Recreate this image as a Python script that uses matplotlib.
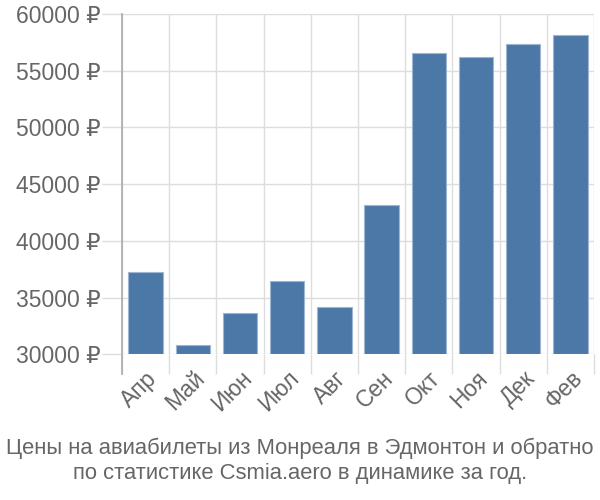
import matplotlib
matplotlib.use("Agg")
import matplotlib.pyplot as plt
import numpy as np

plt.rcParams['font.family'] = ['Liberation Sans', 'DejaVu Sans']

# months and average prices (rub)
months = ['Апр', 'Май', 'Июн', 'Июл', 'Авг', 'Сен', 'Окт', 'Ноя', 'Дек', 'Фев']
prices = [37280, 30820, 33620, 36460, 34140, 43190, 56540, 56220, 57390, 58130]
yticks = [30000, 35000, 40000, 45000, 50000, 55000, 60000]

title = ('Цены на авиабилеты из Монреаля в Эдмонтон и обратно\n'
         'по статистике Csmia.aero в динамике за год.')

bar_color = '#4c78a8'
grid_color = '#dddddd'
text_color = '#666666'

fig = plt.figure(figsize=(6, 5), dpi=100)
ax = fig.add_axes([0.2033, 0.2914, 0.7867, 0.6806])

x = np.arange(len(months))
base = yticks[0]
ax.bar(x, np.array(prices) - base, bottom=base, width=0.73,
       color=bar_color, edgecolor='#9fb6d3', linewidth=0.8, zorder=3)

ax.set_xlim(-0.5, len(months) - 0.5)
ax.set_ylim(yticks[0], yticks[-1])

# y axis: gridlines with long ticks sticking out to the left
ax.set_yticks(yticks)
ax.set_yticklabels([f'{v} ₽' for v in yticks])
ax.yaxis.grid(True, color=grid_color, linewidth=1, zorder=0)
ax.tick_params(axis='y', length=14.4, width=1, color=grid_color,
               labelsize=16.5, labelcolor=text_color, pad=1)

# x axis: gridlines at category boundaries, labels at centres
ax.set_xticks(x)
ax.set_xticklabels(months, rotation=45, ha='right', rotation_mode='anchor')
ax.set_xticks(np.arange(-0.5, len(months)), minor=True)
ax.xaxis.grid(True, which='minor', color=grid_color, linewidth=1, zorder=0)
ax.tick_params(axis='x', which='major', length=0, labelsize=16.5,
               labelcolor=text_color, pad=9)
ax.tick_params(axis='x', which='minor', length=14.4, width=1, color=grid_color)

for s in ['top', 'right', 'bottom']:
    ax.spines[s].set_visible(False)
ax.spines['left'].set_color('#aaaaaa')
ax.spines['left'].set_linewidth(1.2)
ax.spines['left'].set_bounds(yticks[0] - 1700, yticks[-1])
ax.spines['left'].set_zorder(4)

fig.text(0.5, 0.078, title, ha='center', va='center', fontsize=15.8,
         color=text_color, linespacing=1.22)

fig.savefig('out.png', dpi=100)
